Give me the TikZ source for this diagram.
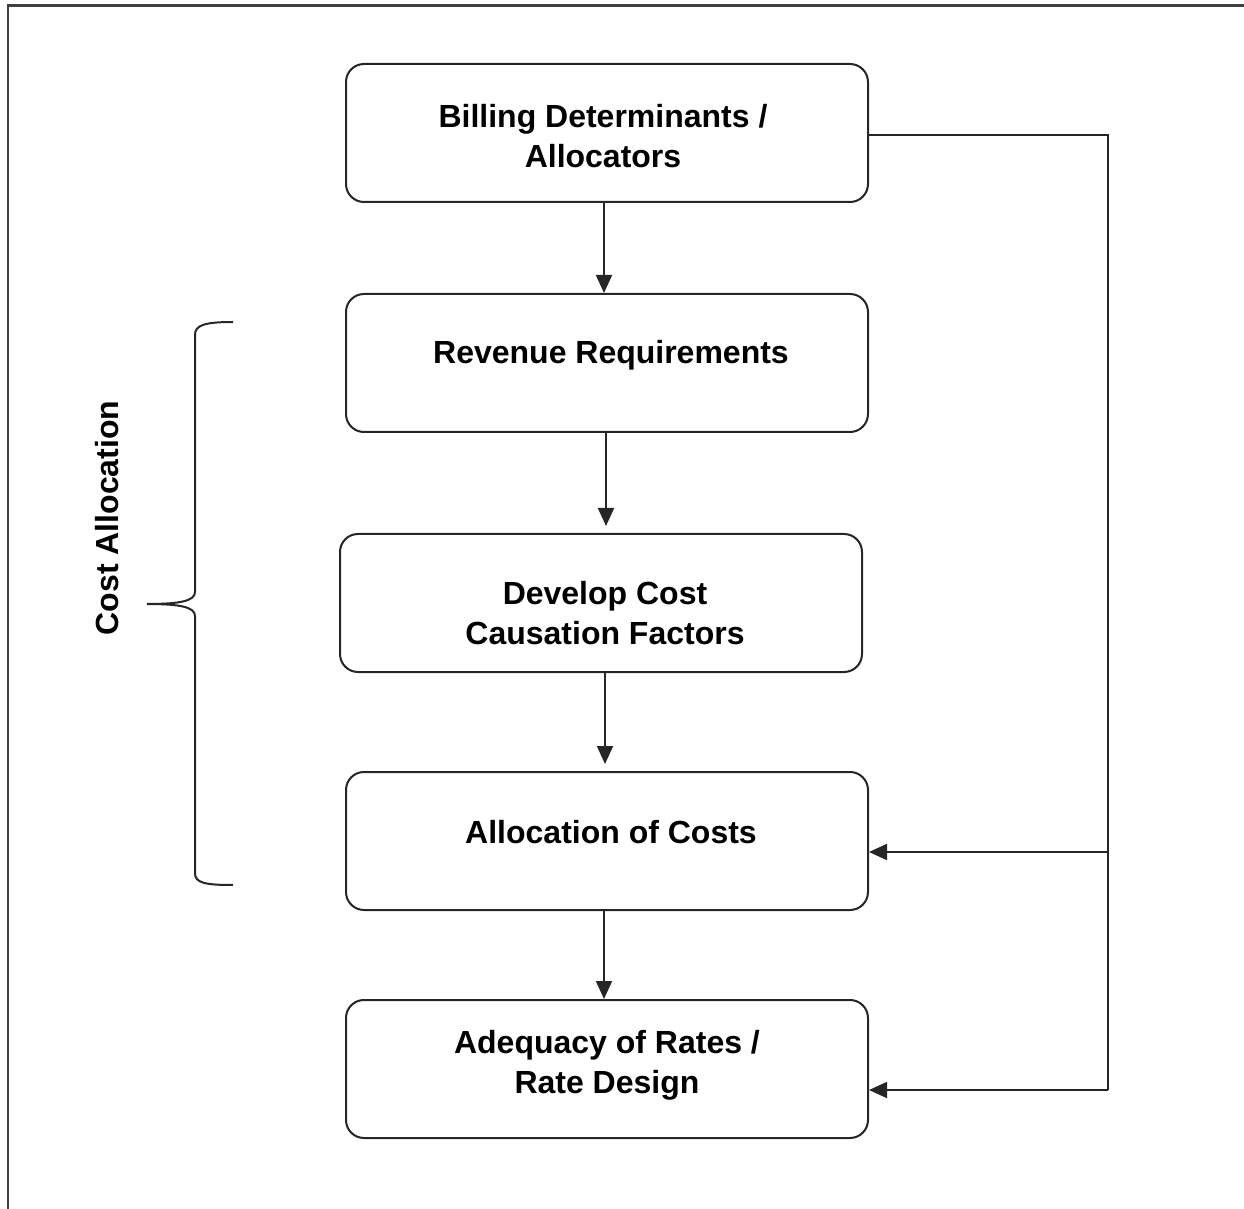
\documentclass[tikz,border=0pt]{standalone}
\usepackage{fontspec}
\setmainfont{Liberation Sans}
\usetikzlibrary{arrows.meta,calc}
\begin{document}
\begin{tikzpicture}[x=0.5pt,y=-0.5pt,
  box/.style={draw=black!85, line width=1pt, rounded corners=9pt, minimum width=261pt, minimum height=69pt, inner sep=0pt},
  lbl/.style={font=\fontsize{16}{20}\selectfont\bfseries, align=center, inner sep=0pt},
  arr/.style={draw=black!85, line width=1pt, -{Triangle[length=9pt,width=8pt]}},
  ln/.style={draw=black!85, line width=1pt}]
\useasboundingbox (0,0) rectangle (1244,1209);
\draw[line width=1.4pt, black!75] (8,1209) -- (8,5.5) -- (1244,5.5);
% boxes
\node[box] (b1) at (607,133) {};
\node[box] (b2) at (607,363) {};
\node[box] (b3) at (601,603) {};
\node[box] (b4) at (607,841) {};
\node[box] (b5) at (607,1069) {};
% texts
\node[lbl] (t1) at (603,136) {Billing Determinants /\\Allocators};
\node[lbl] (t2) at (611,355) {Revenue Requirements};
\node[lbl] (t3) at (605,613) {Develop Cost\\Causation Factors};
\node[lbl] (t4) at (611,832) {Allocation of Costs};
\node[lbl] (t5) at (607,1065) {Adequacy of Rates /\\Rate Design};
\node[lbl, rotate=90] (tc) at (107,518) {Cost Allocation};
% vertical arrows
\draw[arr] ([xshift=-1.5pt]b1.south) -- ([xshift=-1.5pt]b2.north);
\draw[arr] ([xshift=-0.5pt]b2.south) -- ([xshift=2.5pt,yshift=3.5pt]b3.north);
\draw[arr] ([xshift=2pt]b3.south) -- ([xshift=-1pt,yshift=3.5pt]b4.north);
\draw[arr] ([xshift=-1.5pt]b4.south) -- ([xshift=-1.5pt]b5.north);
% right loop
\coordinate (rt) at (1108,135);
\coordinate (rm) at (1108,852);
\coordinate (rb) at (1108,1090);
\draw[ln] (b1.east |- rt) -- (rt) -- (rb);
\draw[arr] (rb) -- (b5.east |- rb);
\draw[arr] (rm) -- (b4.east |- rm);
% brace
\draw[ln] (233,322) .. controls (205,322) and (195,325) .. (195,335) -- (195,592)
  .. controls (195,601) and (180,604) .. (147,604)
  .. controls (180,604) and (195,607) .. (195,616) -- (195,873)
  .. controls (195,883) and (205,885) .. (233,885);
\end{tikzpicture}
\end{document}
